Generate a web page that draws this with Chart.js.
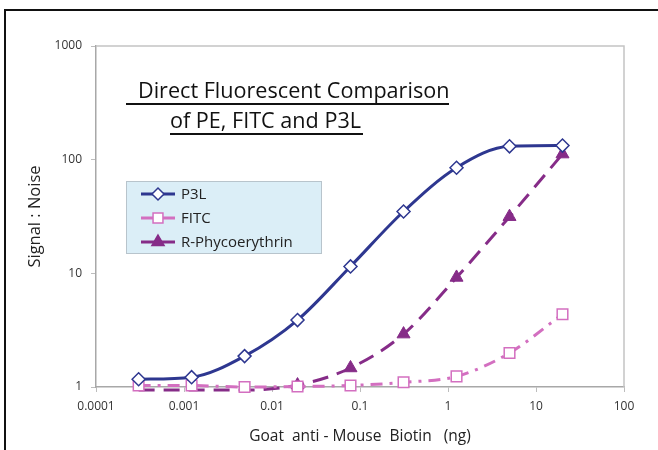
<!DOCTYPE html>
<html>
<head>
<meta charset="utf-8">
<title>Direct Fluorescent Comparison</title>
<script src="https://cdn.jsdelivr.net/npm/chart.js"></script>
<style>
  body { margin: 0; background: #fff; }
  canvas { display: block; }
</style>
</head>
<body>
<canvas id="myChart" width="658" height="450"></canvas>
<script>
// dose of goat anti-mouse biotin (ng), 4-fold dilutions
const doses = [0.000305, 0.00122, 0.00488, 0.0195, 0.078, 0.3125, 1.25, 5, 20];
const p3l = [1.17, 1.22, 1.87, 3.88, 11.5, 35, 85, 131, 133];
const fitc = [1.03, 1.03, 1.0, 1.01, 1.03, 1.1, 1.24, 1.99, 4.37];
const pe = [0.94, 0.94, 0.94, 1.04, 1.47, 2.92, 9.2, 31.5, 112];

const xTicks = [0.0001, 0.001, 0.01, 0.1, 1, 10, 100];
const yTicks = [1, 10, 100, 1000];

const seriesNames = ["P3L", "FITC", "R-Phycoerythrin"];
const titleLines = ["Direct Fluorescent Comparison", "of PE, FITC and P3L"];

const FONT = "'Open Sans', sans-serif";

function points(ys) {
  return doses.map((x, i) => ({ x: x, y: ys[i] }));
}

// black frame, plot border, boxed legend and the underlined title
const decor = {
  id: "decor",
  beforeDraw(chart) {
    const c = chart.ctx;
    c.save();
    c.fillStyle = "#fff";
    c.fillRect(0, 0, chart.width, chart.height);
    c.restore();
  },
  afterDatasetsDraw(chart) {
    const c = chart.ctx;
    const a = chart.chartArea;
    c.save();

    // plot area border (top / right)
    c.strokeStyle = "#c4c4c4";
    c.lineWidth = 1.5;
    c.beginPath();
    c.moveTo(a.left, a.top);
    c.lineTo(a.right, a.top);
    c.lineTo(a.right, a.bottom);
    c.stroke();

    // outer frame
    c.strokeStyle = "#111";
    c.lineWidth = 2;
    c.beginPath();
    c.moveTo(5, chart.height);
    c.lineTo(5, 10);
    c.lineTo(chart.width, 10);
    c.stroke();

    // title
    c.fillStyle = "#111";
    c.textBaseline = "alphabetic";
    c.textAlign = "left";
    c.font = "22px " + FONT;
    const w1 = c.measureText(titleLines[0]).width;
    const size = 22 * 311 / w1;
    c.font = size.toFixed(1) + "px " + FONT;
    c.fillText(titleLines[0], a.left + 42, a.top + 52);
    c.fillText(titleLines[1], a.left + 74, a.top + 82);
    c.fillRect(a.left + 30, a.top + 57, 323, 2);
    c.fillRect(a.left + 74, a.top + 87, 193, 2);

    // legend box
    const lx = a.left + 30, ly = a.top + 135, lw = 195, lh = 72;
    c.fillStyle = "#dbeef7";
    c.fillRect(lx, ly, lw, lh);
    c.strokeStyle = "#b8c4cc";
    c.lineWidth = 1;
    c.strokeRect(lx + 0.5, ly + 0.5, lw, lh);

    c.font = "15px " + FONT;
    c.textBaseline = "middle";
    chart.data.datasets.forEach((ds, i) => {
      const y = ly + 13 + i * 24;
      c.strokeStyle = ds.borderColor;
      c.lineWidth = 3;
      c.setLineDash([]);
      c.beginPath();
      c.moveTo(lx + 15, y);
      c.lineTo(lx + 49, y);
      c.stroke();
      c.fillStyle = ds.pointBackgroundColor;
      c.strokeStyle = ds.pointBorderColor;
      c.lineWidth = 1.5;
      Chart.helpers.drawPoint(c, {
        pointStyle: ds.pointStyle,
        radius: ds.legendRadius,
        borderWidth: 1.5
      }, lx + 32, y);
      c.fillStyle = "#222";
      c.fillText(ds.label, lx + 55, y + 1);
    });

    c.restore();
  }
};

const ctx = document.getElementById("myChart").getContext("2d");

const myChart = new Chart(ctx, {
  type: "line",
  data: {
    datasets: [
      {
        label: seriesNames[0],
        data: points(p3l),
        borderColor: "#2e3790",
        borderWidth: 3,
        pointStyle: "rectRot",
        pointRadius: 6.5,
        legendRadius: 6,
        pointBackgroundColor: "#fff",
        pointBorderColor: "#2e3790",
        pointBorderWidth: 1.5,
        cubicInterpolationMode: "monotone",
        clip: 8,
      },
      {
        label: seriesNames[1],
        data: points(fitc),
        borderColor: "#d36fc0",
        borderWidth: 3,
        borderDash: [12, 7, 3, 7],
        pointStyle: "rect",
        pointRadius: 7.5,
        legendRadius: 7,
        pointBackgroundColor: "#fff",
        pointBorderColor: "#d36fc0",
        pointBorderWidth: 1.5,
        cubicInterpolationMode: "monotone",
        clip: 8,
      },
      {
        label: seriesNames[2],
        data: points(pe),
        borderColor: "#862c88",
        borderWidth: 3,
        borderDash: [16, 9],
        pointStyle: "triangle",
        pointRadius: (c) => (c.raw && c.raw.y < 1 ? 0 : 7.5),
        legendRadius: 7,
        pointBackgroundColor: "#862c88",
        pointBorderColor: "#862c88",
        pointBorderWidth: 1,
        cubicInterpolationMode: "monotone",
        clip: 8,
      },
    ],
  },
  options: {
    responsive: false,
    animation: false,
    layout: { padding: { left: 0, top: 46, right: 34, bottom: 0 } },
    plugins: {
      legend: { display: false },
      tooltip: { enabled: false },
    },
    scales: {
      x: {
        type: "logarithmic",
        min: 0.0001,
        max: 100,
        afterBuildTicks: (s) => { s.ticks = xTicks.map((v) => ({ value: v })); },
        afterFit: (s) => { s.height = 63; },
        ticks: {
          autoSkip: false,
          maxRotation: 0,
          padding: 7,
          color: "#333",
          font: { family: FONT, size: 12 },
          callback: (v) => String(v),
        },
        grid: { drawOnChartArea: false, drawTicks: true, tickLength: 5, color: "#bdbdbd" },
        border: { color: "#a8a8a8", width: 1.5 },
        title: {
          display: true,
          text: "Goat  anti - Mouse  Biotin   (ng)",
          color: "#222",
          font: { family: FONT, size: 15.5 },
          padding: { top: 0, bottom: 4 },
        },
      },
      y: {
        type: "logarithmic",
        min: 1,
        max: 1000,
        afterBuildTicks: (s) => { s.ticks = yTicks.map((v) => ({ value: v })); },
        afterFit: (s) => { s.width = 96; },
        ticks: {
          padding: 9,
          color: "#333",
          font: { family: FONT, size: 12 },
          callback: (v) => String(v),
        },
        grid: { drawOnChartArea: false, drawTicks: true, tickLength: 5, color: "#bdbdbd" },
        border: { color: "#a8a8a8", width: 1.5 },
        title: {
          display: true,
          text: "Signal : Noise",
          color: "#222",
          font: { family: FONT, size: 16.5 },
          padding: { top: 25, bottom: 0 },
        },
      },
    },
  },
  plugins: [decor],
});
</script>
</body>
</html>
